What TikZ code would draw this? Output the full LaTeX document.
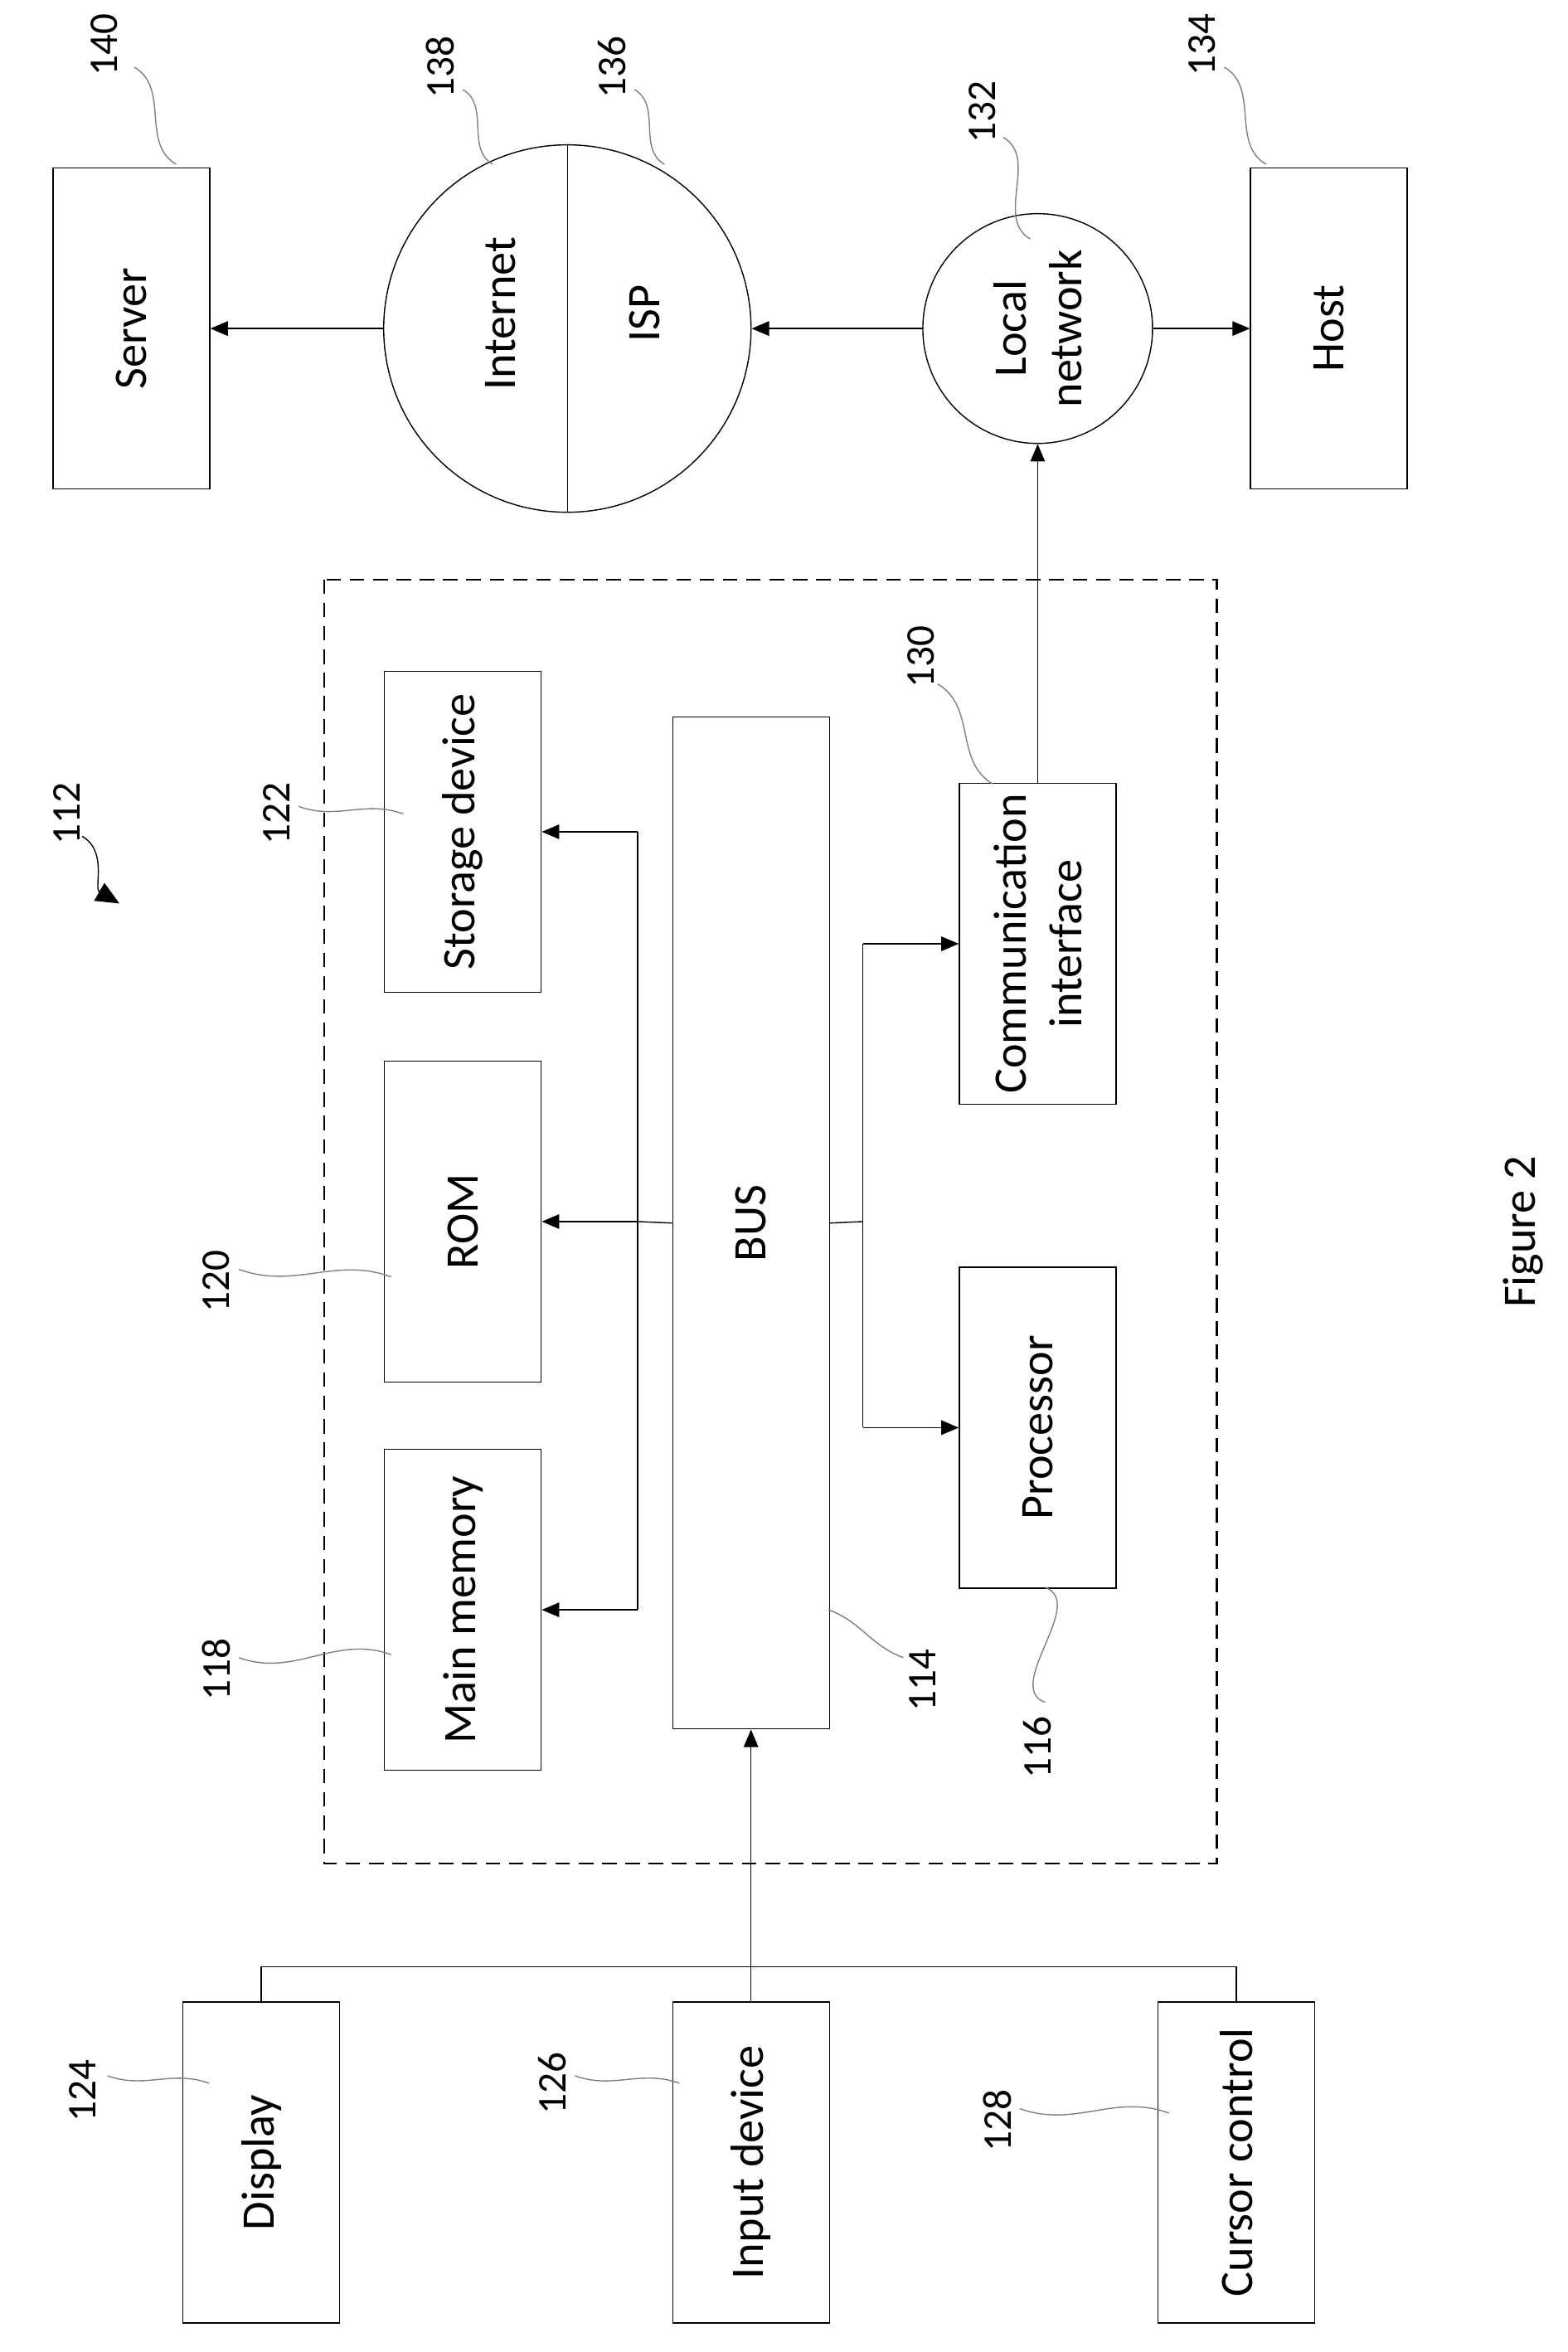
\documentclass[tikz,border=0pt]{standalone}
\usepackage{fontspec}
\setmainfont{Carlito}
\usetikzlibrary{arrows.meta, positioning}
\tikzset{
  box/.style={draw, rotate=90, minimum width=3.87cm, minimum height=1.89cm, font=\fontsize{16}{19}\selectfont, align=center},
  num/.style={rotate=90, font=\fontsize{14}{16}\selectfont},
  txt/.style={rotate=90, font=\fontsize{16}{19}\selectfont, align=center},
  lead/.style={draw, gray, thin},
  arr/.style={-{Triangle[length=6pt,width=5pt]}, thin}
}
\begin{document}
\begin{tikzpicture}[x=0.018cm, y=-0.018cm]
\useasboundingbox (0,0) rectangle (1050,1575);
% outer network
\node[box] (server) at (88,220) {Server};
\node[draw, circle, minimum size=4.43cm] (inet) at (380,220) {};
\draw (inet.north) -- (inet.south);
\node[txt] (tinet) at (335,210) {Internet};
\node[txt] (tisp) at (432,210) {ISP};
\node[draw, circle, minimum size=2.77cm] (lan) at (695,220) {};
\node[txt] (tlan) at (695,220) {Local\\network};
\node[box] (host) at (890,220) {Host};
% computer system
\draw[dashed, semithick, dash pattern=on 5pt off 3pt] (217,388) rectangle (815,1248);
\node[box] (sto) at (310,557) {Storage device};
\node[box] (rom) at (310,818) {ROM};
\node[box] (mem) at (310,1078) {Main memory};
\node[box, minimum width=12.2cm] (bus) at (503,819) {BUS};
\node[box] (comm) at (695,632) {Communication\\interface};
\node[box] (proc) at (695,956) {Processor};
% peripherals
\node[box] (disp) at (175,1448) {Display};
\node[box] (inp) at (503,1448) {Input device};
\node[box] (cur) at (828,1448) {Cursor control};
% connectors
\draw[arr] (inet.west) -- (server.south);
\draw[arr] (lan.west) -- (inet.east);
\draw[arr] (lan.east) -- (host.north);
\coordinate (jl) at (427,818);
\coordinate (jr) at (578,818);
\draw (bus.north) -- (jl);
\draw (jl |- sto.south) -- (jl |- mem.south);
\draw[arr] (jl |- sto.south) -- (sto.south);
\draw[arr] (jl) -- (rom.south);
\draw[arr] (jl |- mem.south) -- (mem.south);
\draw (bus.south) -- (jr);
\draw (jr |- comm.north) -- (jr |- proc.north);
\draw[arr] (jr |- comm.north) -- (comm.north);
\draw[arr] (jr |- proc.north) -- (proc.north);
\draw[arr] (comm.east) -- (lan.south);
\coordinate (jp) at (175,1317);
\draw (disp.east) -- (jp) -- (jp -| cur.east) -- (cur.east);
\draw[arr] (inp.east) -- (bus.west);
% reference numbers
\node[num] (n140) at (70,30) {140};
\draw[lead] (90,45) to[out=-30,in=150] (118,110);
\node[num] (n138) at (295,45) {138};
\draw[lead] (310,60) to[out=-30,in=150] (330,110);
\node[num] (n136) at (410,45) {136};
\draw[lead] (425,60) to[out=-30,in=150] (445,110);
\node[num] (n132) at (658,75) {132};
\draw[lead] (672,92) to[out=-30,in=150] (690,160);
\node[num] (n134) at (805,30) {134};
\draw[lead] (820,45) to[out=-30,in=150] (848,110);
\node[num] (n112) at (45,545) {112};
\draw[-{Triangle[length=8pt,width=7pt]}] (55,560) to[out=-30,in=150] (80,605);
\node[num] (n122) at (185,545) {122};
\draw[lead] (200,540) to[out=-20,in=160] (270,545);
\node[num] (n120) at (145,858) {120};
\draw[lead] (160,850) to[out=-20,in=160] (262,855);
\node[num] (n118) at (145,1118) {118};
\draw[lead] (160,1110) to[out=-20,in=160] (262,1108);
\node[num] (n130) at (617,440) {130};
\draw[lead] (628,458) to[out=-30,in=150] (665,525);
\node[num] (n114) at (618,1125) {114};
\draw[lead] (555,1078) to[out=-20,in=160] (605,1110);
\node[num] (n116) at (695,1170) {116};
\draw[lead] (700,1063) to[out=-20,in=160] (700,1140);
\node[num] (n124) at (55,1400) {124};
\draw[lead] (72,1390) to[out=-20,in=160] (140,1395);
\node[num] (n126) at (370,1395) {126};
\draw[lead] (385,1390) to[out=-20,in=160] (455,1395);
\node[num] (n128) at (668,1420) {128};
\draw[lead] (683,1412) to[out=-20,in=160] (783,1415);
\node[txt] (fig) at (1020,825) {Figure 2};
\end{tikzpicture}
\end{document}
